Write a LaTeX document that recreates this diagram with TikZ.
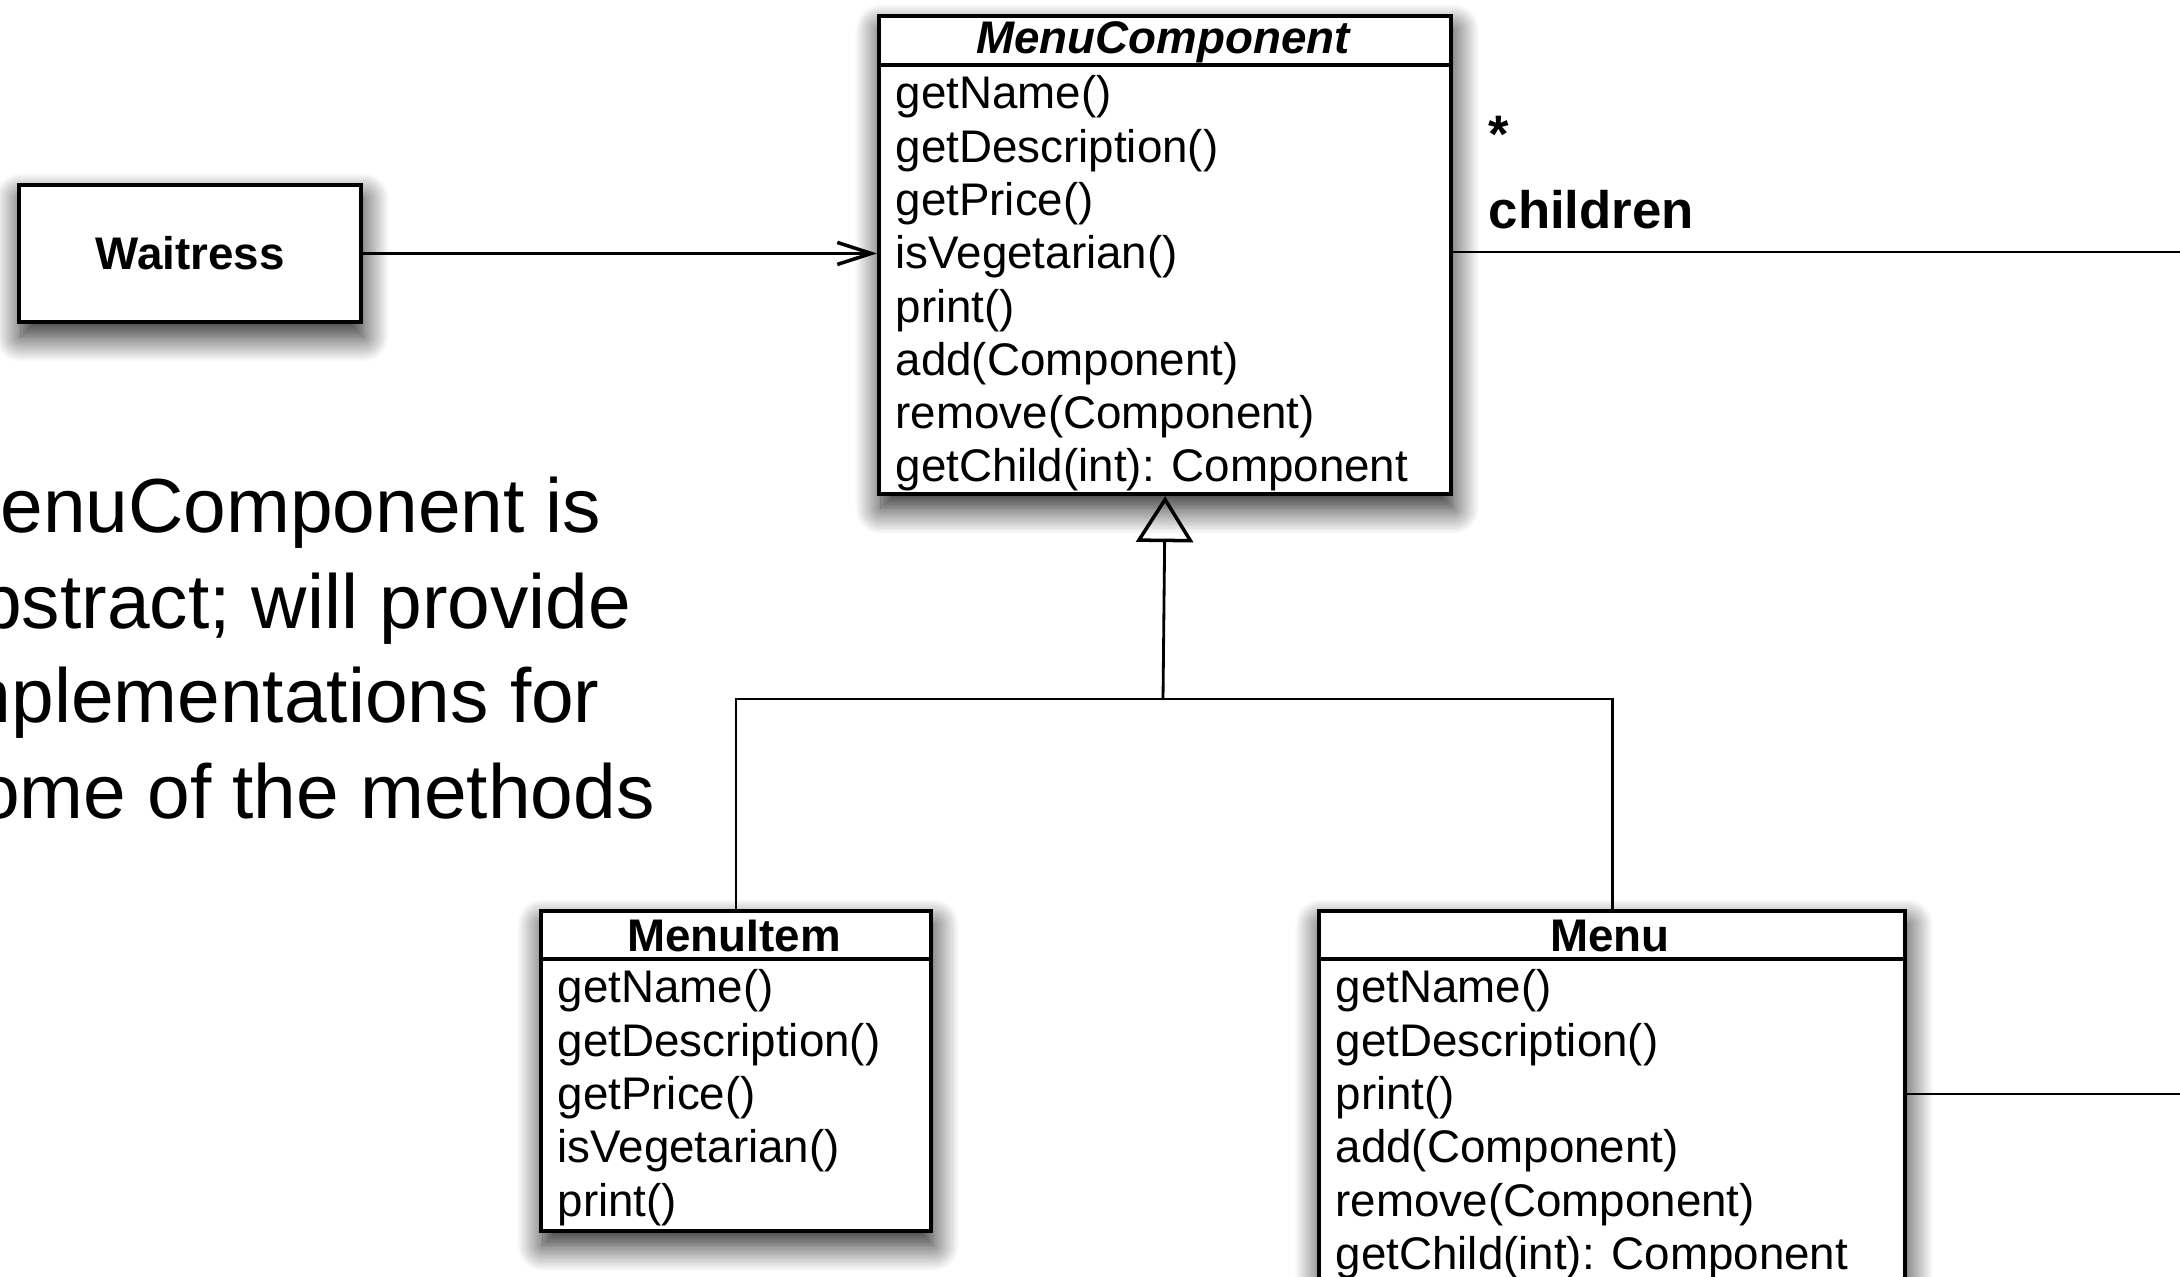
\documentclass[tikz,border=0pt]{standalone}
\usepackage{fontspec}
\setmainfont{Liberation Sans}
\usetikzlibrary{shadows.blur,arrows.meta}
\begin{document}
\begin{tikzpicture}[x=0.01cm,y=-0.01cm,
  boxline/.style={line width=1.1pt},
  umlbox/.style={draw, boxline, fill=white, rectangle, inner sep=0pt, anchor=north west,
    blur shadow={shadow xshift=0.2mm, shadow yshift=-1.4mm, shadow blur radius=2.6mm,
      shadow opacity=90, shadow blur steps=20}},
  member/.style={anchor=west, inner sep=0pt, font=\fontsize{13}{15}\selectfont},
  ctitle/.style={inner sep=0pt, font=\bfseries\fontsize{13}{15}\selectfont},
  note/.style={anchor=base west, inner sep=0pt, font=\fontsize{21.8}{27}\selectfont},
  link/.style={line width=0.8pt},
]
\useasboundingbox (0,0) rectangle (2180,1277);
\clip (0,0) rectangle (2180,1277);

% explanatory note on the left
\node[note] (note1) at (-64,533) {MenuComponent is};
\node[note] (note2) at (-64,629) {abstract; will provide};
\node[note] (note3) at (-70,723) {implementations for};
\node[note] (note4) at (-62,818) {some of the methods};

% client class
\node[umlbox, ctitle, minimum width=3.42cm, minimum height=1.37cm] (waitress) at (17,183) {Waitress};

% abstract component
\node[umlbox, minimum width=5.72cm, minimum height=4.78cm] (mc) at (877,14) {};
\node[ctitle, font=\bfseries\itshape\fontsize{13}{15}\selectfont] (mc-title) at (1163,42) {MenuComponent};
\draw[boxline] (877,65) -- (1449,65);
\foreach [count=\i] \m in {getName(), getDescription(), getPrice(), isVegetarian(), print(),
    add(Component), remove(Component), getChild(int): Component}
  \node[member] (mc-m\i) at (895,{97+(\i-1)*53.3}) {\m};

% leaf
\node[umlbox, minimum width=3.9cm, minimum height=3.2cm] (mi) at (539,909) {};
\node[ctitle] (mi-title) at (734,936) {MenuItem};
\draw[boxline] (539,959) -- (929,959);
\foreach [count=\i] \m in {getName(), getDescription(), getPrice(), isVegetarian(), print()}
  \node[member] (mi-m\i) at (557,{991+(\i-1)*53.3}) {\m};

% composite
\node[umlbox, minimum width=5.86cm, minimum height=4.2cm] (menu) at (1317,909) {};
\node[ctitle] (menu-title) at (1610,936) {Menu};
\draw[boxline] (1317,959) -- (1903,959);
\foreach [count=\i] \m in {getName(), getDescription(), print(), add(Component),
    remove(Component), getChild(int): Component}
  \node[member] (menu-m\i) at (1335,{991+(\i-1)*53.3}) {\m};

% association end labels
\node[anchor=west, inner sep=0pt, font=\bfseries\fontsize{15}{18}\selectfont] (mult) at (1488,134) {*};
\node[anchor=west, inner sep=0pt, font=\bfseries\fontsize{15}{18}\selectfont] (role) at (1488,210) {children};

% connectors
\coordinate (rightA) at (2180,252);
\coordinate (rightB) at (2180,1094);
\coordinate (hj) at (1163,699);
\draw[link, -{Straight Barb[length=3.4mm, width=2.2mm, line width=1pt]}]
  (waitress.east) -- (mc.west |- waitress.east);
\draw[link] (mc.east |- rightA) -- (rightA);
\draw[link] (menu.east |- rightB) -- (rightB);
\draw[link] (mi.north) -- (mi.north |- hj) -- (menu.north |- hj) -- (menu.north);
\draw[link, -{Triangle[open, length=4.6mm, width=5.7mm, line width=1pt]}]
  (hj) -- (mc.south);
\end{tikzpicture}
\end{document}
